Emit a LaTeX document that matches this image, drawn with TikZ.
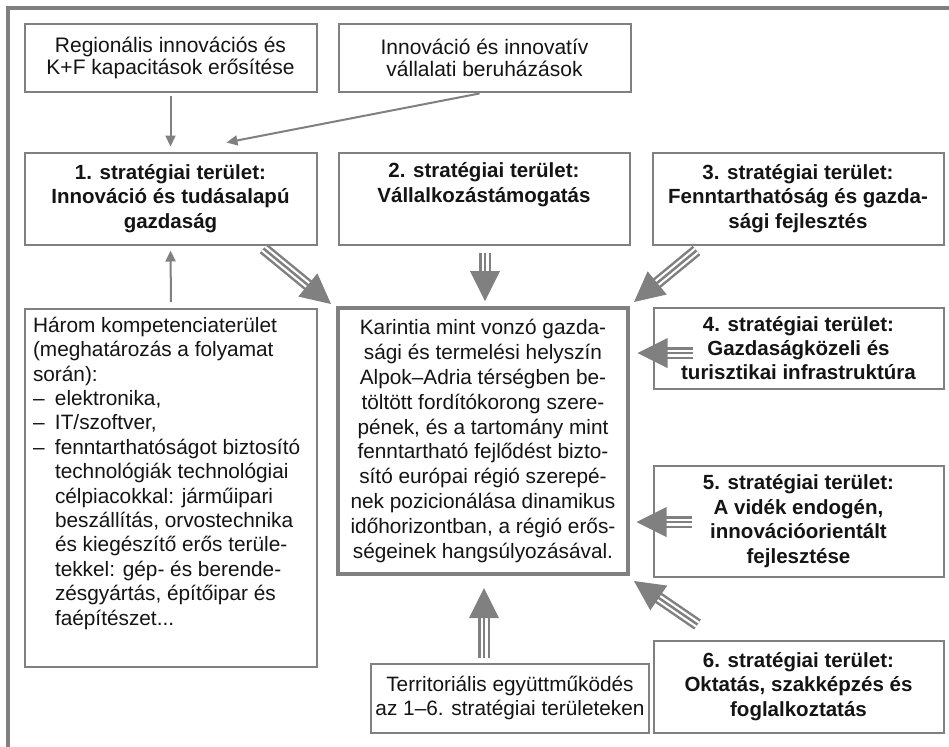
\documentclass[tikz,border=0pt]{standalone}
\usepackage{fontspec}
\setmainfont{Liberation Sans}
\usetikzlibrary{arrows.meta,calc}

\definecolor{framegray}{RGB}{128,128,128}
\definecolor{inkgray}{RGB}{20,20,20}

\tikzset{
  box/.style={draw=framegray, line width=1pt, fill=white, text=inkgray, align=center, inner sep=2pt},
  plainbox/.style={box, font=\fontsize{10.5}{11}\selectfont},
  areabox/.style={box, font=\fontsize{10.25}{12.2}\selectfont\bfseries},
  thinarrow/.style={draw=framegray, line width=1pt, -{Triangle[length=5.5pt,width=5pt]}},
}

% three-line shaft with a big head
\newcommand\bigarrow[2]{%
  \coordinate (ba-s) at (#1);
  \coordinate (ba-t) at (#2);
  \coordinate (ba-b) at ($(ba-t)!15pt!(ba-s)$);
  \draw[framegray, line width=6pt] (ba-s) -- ($(ba-t)!14pt!(ba-s)$);
  \draw[white, line width=3.5pt] (ba-s) -- ($(ba-t)!14pt!(ba-s)$);
  \draw[framegray, line width=1.25pt] (ba-s) -- ($(ba-t)!14pt!(ba-s)$);
  \fill[framegray] (ba-t) -- ($(ba-b)!7.5pt!90:(ba-t)$) -- ($(ba-b)!7.5pt!-90:(ba-t)$) -- cycle;
}
\newcommand\listdash{\makebox[11pt][l]{–}}
\newcommand\listindent{\hspace*{11pt}}

\begin{document}
\begin{tikzpicture}[x=0.5pt, y=-0.5pt]
  \useasboundingbox[fill=white] (0,0) rectangle (949,746);
  \draw[framegray, line width=2pt] (8,760) -- (8,8) -- (960,8);

  % top row
  \node[plainbox, minimum width=146pt, minimum height=34pt] (regio) at (170.5,57.5)
    {Regionális innovációs és\\K+F kapacitások erősítése};
  \node[plainbox, minimum width=146pt, minimum height=34pt] (invest) at (484.5,57.5)
    {Innováció és innovatív\\vállalati beruházások};

  % strategic areas 1-3
  \node[areabox, minimum width=146pt, minimum height=46pt] (sa1) at (170.5,198.5)
    {1. stratégiai terület:\\Innováció és tudásalapú\\gazdaság};
  \node[areabox, minimum width=145.5pt, minimum height=46pt] (sa2) at (484,198.5)
    {2. stratégiai terület:\\Vállalkozástámogatás\\\strut};
  \node[areabox, minimum width=145.5pt, minimum height=46pt] (sa3) at (798,198.5)
    {3. stratégiai terület:\\Fenntarthatóság és gazda-\\sági fejlesztés};

  % competences
  \node[box, anchor=north west, inner sep=4pt, align=left,
        font=\fontsize{10.4}{12.2}\selectfont] (komp) at (24,308)
    {\parbox[c][171pt][t]{138pt}{\raggedright
      Három kompetenciaterület\\
      (meghatározás a folyamat\\
      során):\\
      \listdash elektronika,\\
      \listdash IT/szoftver,\\
      \listdash fenntarthatóságot biztosító\\
      \listindent technológiák technológiai\\
      \listindent célpiacokkal: járműipari\\
      \listindent beszállítás, orvostechnika\\
      \listindent és kiegészítő erős terüle-\\
      \listindent tekkel: gép- és berende-\\
      \listindent zésgyártás, építőipar és\\
      \listindent faépítészet...}};

  % centre
  \node[box, line width=2pt, minimum width=145pt, minimum height=133pt,
        font=\fontsize{10.4}{12.4}\selectfont] (karintia) at (483,441)
    {Karintia mint vonzó gazda-\\
     sági és termelési helyszín\\
     Alpok–Adria térségben be-\\
     töltött fordítókorong szere-\\
     pének, és a tartomány mint\\
     fenntartható fejlődést bizto-\\
     sító európai régió szerepé-\\
     nek pozicionálása dinamikus\\
     időhorizontban, a régió erős-\\
     ségeinek hangsúlyozásával.};

  % strategic areas 4-6
  \node[areabox, minimum width=145pt, minimum height=40.5pt] (sa4) at (798.5,348)
    {4. stratégiai terület:\\Gazdaságközeli és\\turisztikai infrastruktúra};
  \node[areabox, minimum width=145pt, minimum height=55.5pt] (sa5) at (798.5,521)
    {5. stratégiai terület:\\A vidék endogén,\\innovációorientált\\fejlesztése};
  \node[areabox, minimum width=145pt, minimum height=46pt] (sa6) at (798.5,686.5)
    {6. stratégiai terület:\\Oktatás, szakképzés és\\foglalkoztatás};

  \node[box, minimum width=119.5pt, minimum height=34.5pt,
        font=\fontsize{10.4}{12}\selectfont] (terr) at (510,698)
    {Territoriális együttműködés\\az 1–6. stratégiai területeken};

  % thin arrows
  \draw[thinarrow, shorten <=1.5pt, shorten >=2.5pt] (regio.south) -- (sa1.north);
  \draw[thinarrow, shorten <=2.5pt] (invest.south) -- ([shift={(56,-9)}]sa1.north);
  \draw[thinarrow, shorten <=3pt, shorten >=2.5pt] (komp.north) -- (sa1.south);

  % big arrows into the centre
  \bigarrow{[shift={(-54,3)}]sa1.south east}{[shift={(-5,-2)}]karintia.north west}
  \bigarrow{[shift={(1,7)}]sa2.south}{[shift={(2,-5)}]karintia.north}
  \bigarrow{[shift={(45,5)}]sa3.south west}{[shift={(4,-4)}]karintia.north east}
  \bigarrow{[shift={(40,5)}]sa4.west}{[shift={(-15,5)}]sa4.west}
  \bigarrow{[shift={(39,1)}]sa5.west}{[shift={(-16,1)}]sa5.west}
  \bigarrow{[shift={(45,-15)}]sa6.north west}{[shift={(4,5)}]karintia.south east}
  \bigarrow{[shift={(1,-5)}]karintia.south |- terr.north}{[shift={(1,12)}]karintia.south}
\end{tikzpicture}
\end{document}
